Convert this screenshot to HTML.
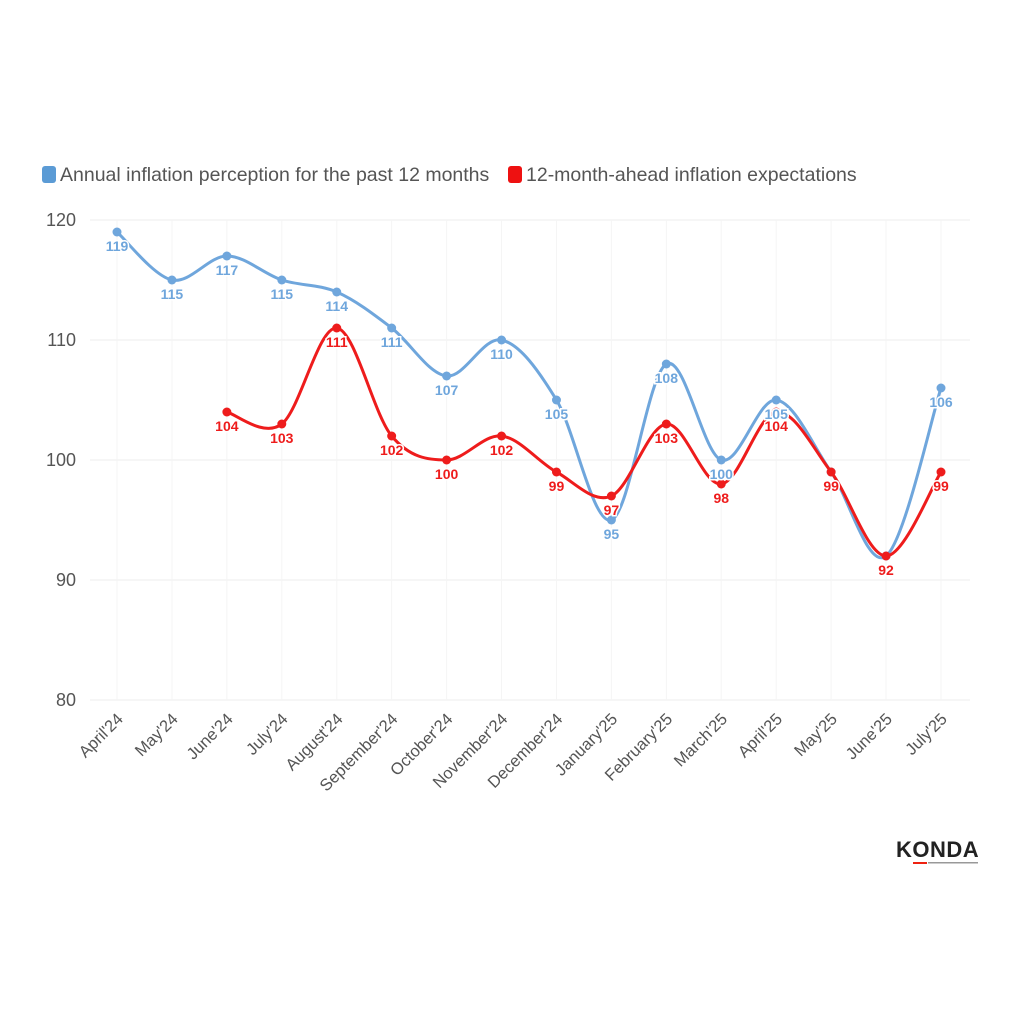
<!DOCTYPE html>
<html><head><meta charset="utf-8"><style>
body{margin:0;background:#fff;font-family:"Liberation Sans",sans-serif;}
</style></head><body>
<svg id="chart" width="1024" height="1024" xmlns="http://www.w3.org/2000/svg" style="display:block">
<rect width="1024" height="1024" fill="#fff"/>
<g>
 <g>
  <rect x="42" y="166" width="14" height="17" rx="3" fill="#5b9bd5"/>
  <text x="60" y="181" font-size="19.5" fill="#555">Annual inflation perception for the past 12 months</text>
 </g>
 <g>
  <rect x="508" y="166" width="14" height="17" rx="3" fill="#ee1111"/>
  <text x="526" y="181" font-size="19.5" fill="#555">12-month-ahead inflation expectations</text>
 </g>
</g>
<g id="grid"></g><g id="axes"></g><g id="series"></g><g id="labels"></g>
<g>
 <text x="896" y="857" font-size="22" font-weight="bold" fill="#222" letter-spacing="0.5">KONDA</text>
 <rect x="913" y="862" width="14" height="2" fill="#e21"/>
 <rect x="928" y="862" width="50" height="1.5" fill="#999"/>
</g>
</svg>
<script>
const categories=["April'24","May'24","June'24","July'24","August'24","September'24","October'24","November'24","December'24","January'25","February'25","March'25","April'25","May'25","June'25","July'25"];
const perception=[119,115,117,115,114,111,107,110,105,95,108,100,105,99,92,106];
const expectations=[null,null,104,103,111,102,100,102,99,97,103,98,104,99,92,99];
const yTicks=[80,90,100,110,120];
const NS="http://www.w3.org/2000/svg";
const x0=117,x1=941,yTop=220,yBot=700,yMin=80,yMax=120,plotL=90,plotR=970;
function xs(i){return x0+(x1-x0)*i/(categories.length-1);}
function ys(v){return yBot-(v-yMin)/(yMax-yMin)*(yBot-yTop);}
function mk(t,a,p){const e=document.createElementNS(NS,t);for(const k in a)e.setAttribute(k,a[k]);p.appendChild(e);return e;}
const grid=document.getElementById('grid'),axes=document.getElementById('axes'),ser=document.getElementById('series'),lab=document.getElementById('labels');
yTicks.forEach(v=>{
 const l=mk('line',{x1:plotL,x2:plotR,y1:ys(v),y2:ys(v),stroke:'#ececec','stroke-width':1},grid);
 
 
 const t=mk('text',{x:76,y:ys(v)+6,'text-anchor':'end','font-size':18,fill:'#555'},axes);
 t.textContent=v;
 
 
});
categories.forEach((c,i)=>{
 const l=mk('line',{x1:xs(i),x2:xs(i),y1:yTop,y2:yBot,stroke:'#f5f5f5','stroke-width':1},grid);
 
 
 const t=mk('text',{x:0,y:0,'text-anchor':'end','font-size':16.5,fill:'#555',transform:`translate(${xs(i)+7},${yBot+20}) rotate(-45)`},axes);
 t.textContent=c;
 
 
});
function pathFor(vals){
 const pts=[];vals.forEach((v,i)=>{if(v!=null)pts.push([xs(i),ys(v)]);});
 let d=`M${pts[0][0]},${pts[0][1]}`;
 for(let i=0;i<pts.length-1;i++){
  const p0=pts[i-1]||pts[i],p1=pts[i],p2=pts[i+1],p3=pts[i+2]||p2;
  const c1=[p1[0]+(p2[0]-p0[0])/6,p1[1]+(p2[1]-p0[1])/6];
  const c2=[p2[0]-(p3[0]-p1[0])/6,p2[1]-(p3[1]-p1[1])/6];
  d+=` C${c1[0]},${c1[1]} ${c2[0]},${c2[1]} ${p2[0]},${p2[1]}`;
 }
 return d;
}
function draw(vals,color,name){
 const p=mk('path',{d:pathFor(vals),fill:'none',stroke:color,'stroke-width':3},ser);
 
 
 vals.forEach((v,i)=>{if(v==null)return;
  const c=mk('circle',{cx:xs(i),cy:ys(v),r:4.5,fill:color},ser);
  
  
  const t=mk('text',{x:xs(i),y:ys(v)+19,'text-anchor':'middle','font-size':14,'font-weight':'bold',fill:color,stroke:'#fff','stroke-width':3,'paint-order':'stroke'},lab);
  t.textContent=v;
  
  
 });
}
draw(perception,'#6fa6dc','perception');
draw(expectations,'#ee1c1c','expectations');
</script>
</body></html>
